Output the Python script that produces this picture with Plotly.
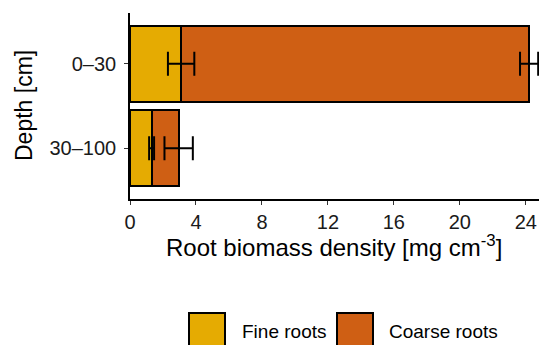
import plotly.graph_objects as go

depths = ["0–30", "30–100"]
fine_mean = [3.1, 1.31]
fine_err = [0.8, 0.15]
coarse_mean = [21.1, 1.64]
coarse_err = [0.55, 0.86]
series_names = ["Fine roots", "Coarse roots"]
colors = ["#E5AB02", "#CF5F14"]
x_ticks = [0, 4, 8, 12, 16, 20, 24]

W, H = 539, 345
L, R, T, B = 130, 0, 13, 146
pw, ph = W - L - R, H - T - B

fig = go.Figure()
fig.add_trace(go.Bar(y=depths, x=fine_mean, orientation="h", name=series_names[0],
                     marker=dict(color=colors[0], line=dict(color="black", width=2)),
                     width=0.9, showlegend=False))
fig.add_trace(go.Bar(y=depths, x=coarse_mean, orientation="h", name=series_names[1],
                     marker=dict(color=colors[1], line=dict(color="black", width=2)),
                     width=0.9, showlegend=False))
# error bars at the stacked positions
fig.add_trace(go.Scatter(y=depths, x=fine_mean, mode="markers", marker=dict(size=0.1, opacity=0),
                         error_x=dict(type="data", array=fine_err, color="black", thickness=2, width=12),
                         showlegend=False, hoverinfo="skip"))
coarse_top = [f + c for f, c in zip(fine_mean, coarse_mean)]
fig.add_trace(go.Scatter(y=depths, x=coarse_top, mode="markers", marker=dict(size=0.1, opacity=0),
                         error_x=dict(type="data", array=coarse_err, color="black", thickness=2, width=12),
                         showlegend=False, hoverinfo="skip"))

font = "Liberation Sans, Arial, sans-serif"
fig.update_layout(
    width=W, height=H, margin=dict(l=L, r=R, t=T, b=B),
    barmode="stack", bargap=0.1,
    paper_bgcolor="white", plot_bgcolor="white",
    font=dict(family=font, size=20, color="black"),
    xaxis=dict(range=[0, 24.8], tickvals=x_ticks, ticks="outside", ticklen=4, tickwidth=1.3,
               tickcolor="#333333", showline=True, linecolor="black", linewidth=1.5,
               showgrid=False, zeroline=False, tickfont=dict(family=font, size=20, color="#1a1a1a"),
               fixedrange=True),
    yaxis=dict(categoryorder="array", categoryarray=depths[::-1], range=[-0.6, 1.6],
               ticks="outside", ticklen=4, tickwidth=1.3, tickcolor="#333333",
               showline=True, linecolor="black", linewidth=1.5, showgrid=False, zeroline=False,
               tickfont=dict(family=font, size=20, color="#1a1a1a"), ticklabelstandoff=4, fixedrange=True),
)

def px_x(p):
    return (p - L) / pw

def px_y(p):
    return (H - B - p) / ph

annotations = [
    dict(text="Root biomass density [mg cm<sup>-3</sup>]", x=px_x(334), y=px_y(246),
         xref="paper", yref="paper", showarrow=False, font=dict(family=font, size=24),
         xanchor="center", yanchor="middle"),
    dict(text="Depth [cm]", x=px_x(24), y=px_y(106), textangle=-90,
         xref="paper", yref="paper", showarrow=False, font=dict(family=font, size=23),
         xanchor="center", yanchor="middle"),
]
shapes = []
legend_boxes = [(189, 240), (337, 387)]
for (bx, tx), name, col in zip(legend_boxes, series_names, colors):
    shapes.append(dict(type="rect", xref="paper", yref="paper",
                       x0=px_x(bx), x1=px_x(bx + 36), y0=px_y(313), y1=px_y(349),
                       fillcolor=col, line=dict(color="black", width=2)))
    annotations.append(dict(text=name, x=px_x(tx), y=px_y(331), xref="paper", yref="paper",
                            showarrow=False, xanchor="left", yanchor="middle",
                            font=dict(family=font, size=19)))
fig.update_layout(annotations=annotations, shapes=shapes)

fig.write_html("out.html")
